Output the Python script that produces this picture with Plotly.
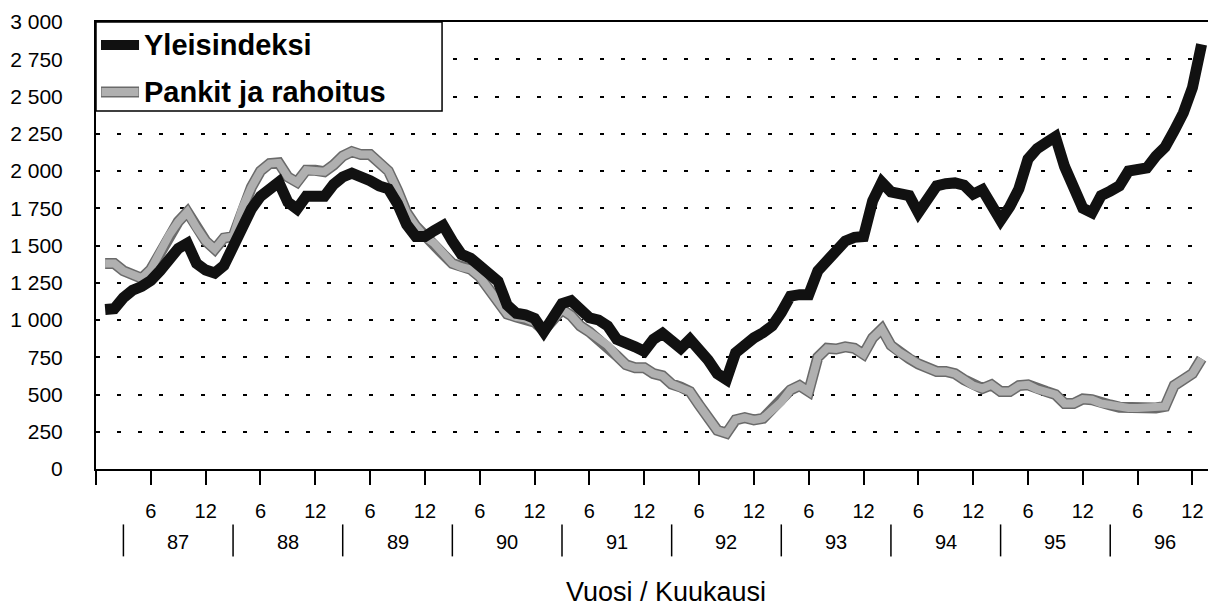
import plotly.graph_objects as go

# Monthly index values, Jan 1987 ... Jan 1997
months = list(range(1, 122))

yleisindeksi = [
    1070, 1075, 1150, 1200, 1225, 1265, 1330, 1420, 1480, 1515, 1380, 1335,
    1315, 1365, 1490, 1640, 1745, 1830, 1890, 1925, 1790, 1745, 1830, 1830,
    1830, 1910, 1960, 1985, 1965, 1935, 1900, 1880, 1780, 1640, 1560, 1560,
    1600, 1635, 1530, 1440, 1415, 1365, 1330, 1260, 1100, 1045, 1035, 1010,
    920, 1010, 1110, 1130, 1070, 1015, 1000, 960, 870, 850, 820, 790,
    870, 910, 850, 810, 870, 810, 730, 640, 600, 780, 840, 880,
    915, 960, 1050, 1160, 1170, 1170, 1330, 1395, 1440, 1530, 1555, 1560,
    1800, 1925, 1860, 1840, 1835, 1720, 1800, 1900, 1915, 1920, 1905, 1845,
    1875, 1760, 1670, 1760, 1880, 2080, 2150, 2190, 2230, 2030, 1880, 1750,
    1720, 1835, 1865, 1900, 2000, 2015, 2020, 2100, 2160, 2270, 2390, 2560,
    2850,
]

pankit = [
    1380, 1380, 1330, 1300, 1280, 1340, 1460, 1570, 1660, 1725, 1620, 1530,
    1475, 1550, 1560, 1750, 1890, 2000, 2050, 2055, 1960, 1925, 2005, 2005,
    1995, 2040, 2100, 2130, 2110, 2110, 2060, 2000, 1870, 1720, 1630, 1560,
    1515, 1440, 1380, 1355, 1340, 1290, 1200, 1120, 1040, 1020, 1010, 985,
    930, 1000, 1070, 1030, 960, 920, 870, 830, 760, 700, 680, 680,
    640, 625, 570, 550, 520, 430, 340, 260, 240, 330, 345, 330,
    340, 400, 450, 530, 560, 520, 750, 810, 805, 820, 810, 770,
    880, 940, 830, 780, 740, 705, 680, 655, 655, 640, 600, 560,
    540, 565, 520, 520, 560, 565, 535, 520, 500, 440, 440, 470,
    465, 440, 430, 415, 410, 410, 410, 410, 420, 560, 600, 640,
    740,
]

series_names = ["Yleisindeksi", "Pankit ja rahoitus"]

y_ticks = list(range(0, 3001, 250))
y_ticktext = [f"{v:,}".replace(",", " ") for v in y_ticks]

month_ticks = list(range(0, 121, 6))
month_ticktext = ["" if v == 0 else ("6" if v % 12 == 6 else "12") for v in month_ticks]

year_labels = ["87", "88", "89", "90", "91", "92", "93", "94", "95", "96"]
year_label_pos = [9 + 12 * i for i in range(len(year_labels))]
year_sep_pos = [3 + 12 * i for i in range(len(year_labels) + 1)]

FONT = "Liberation Sans, Arial, sans-serif"
BLACK = "#111111"
GREY_EDGE = "#6a6a6a"
GREY_BODY = "#b0b0b0"

fig = go.Figure()

# Pankit ja rahoitus: dark edge + stippled grey body
fig.add_trace(go.Scatter(
    x=months, y=pankit, mode="lines", showlegend=False, hoverinfo="skip",
    line=dict(color=GREY_EDGE, width=11),
))
fig.add_trace(go.Scatter(
    x=months, y=pankit, mode="lines", name=series_names[1], showlegend=False,
    line=dict(color=GREY_BODY, width=8),
))
fig.add_trace(go.Scatter(
    x=months, y=yleisindeksi, mode="lines", name=series_names[0], showlegend=False,
    line=dict(color=BLACK, width=11),
))

shapes = []
for s in year_sep_pos:
    if s > 121:
        continue
    shapes.append(dict(type="line", xref="x", yref="paper", x0=s, x1=s,
                       y0=-0.124, y1=-0.1955, line=dict(color="black", width=1.5)))

# legend key box (top-left corner of the plot area)
shapes.append(dict(type="rect", xref="paper", yref="paper", x0=0, x1=0.3112,
                   y0=0.8011, y1=1.0, fillcolor="white",
                   line=dict(color="black", width=1.5), layer="above"))
key_y = [0.9486, 0.8436]
shapes.append(dict(type="line", xref="paper", yref="paper", x0=0.0045, x1=0.0387,
                   y0=key_y[0], y1=key_y[0], line=dict(color=BLACK, width=10), layer="above"))
shapes.append(dict(type="line", xref="paper", yref="paper", x0=0.0045, x1=0.0387,
                   y0=key_y[1], y1=key_y[1], line=dict(color=GREY_EDGE, width=11), layer="above"))
shapes.append(dict(type="line", xref="paper", yref="paper", x0=0.0050, x1=0.0382,
                   y0=key_y[1], y1=key_y[1], line=dict(color=GREY_BODY, width=8), layer="above"))

annotations = []
for name, ky in zip(series_names, key_y):
    annotations.append(dict(x=0.0414, y=ky, xref="paper", yref="paper", text=f"<b>{name}</b>",
                            showarrow=False, font=dict(size=29, color="black", family=FONT),
                            xanchor="left", yanchor="middle"))
for lbl, pos in zip(year_labels, year_label_pos):
    annotations.append(dict(x=pos, y=-0.1642, xref="x", yref="paper", text=lbl,
                            showarrow=False, font=dict(size=20, color="black", family=FONT),
                            xanchor="center", yanchor="middle"))
annotations.append(dict(x=0.5128, y=-0.276, xref="paper", yref="paper",
                        text="Vuosi / Kuukausi", showarrow=False,
                        font=dict(size=27, color="black", family=FONT),
                        xanchor="center", yanchor="middle"))

fig.update_layout(
    width=1208, height=610,
    margin=dict(l=96, r=0, t=22, b=141, pad=0),
    paper_bgcolor="white", plot_bgcolor="white",
    font=dict(family=FONT, color="black", size=20),
    showlegend=False,
    shapes=shapes,
    annotations=annotations,
)

fig.update_xaxes(
    range=[0, 121.7], showgrid=False, zeroline=False,
    showline=True, linecolor="black", linewidth=2, mirror=True,
    tickmode="array", tickvals=month_ticks, ticktext=month_ticktext,
    ticks="outside", ticklen=14, tickwidth=1.5, tickcolor="black",
    tickfont=dict(size=20, family=FONT, color="black"),
    ticklabelstandoff=9,
)
fig.update_yaxes(
    range=[0, 3000], zeroline=False,
    showline=True, linecolor="black", linewidth=2,
    tickmode="array", tickvals=y_ticks, ticktext=y_ticktext,
    ticks="", tickfont=dict(size=21, family=FONT, color="black"),
    ticklabelstandoff=27,
    showgrid=True, gridcolor="black", gridwidth=2, griddash="4px,17px",
)

fig.write_html("out.html", config={"displayModeBar": False},
               post_script="document.body.style.margin='0';")
